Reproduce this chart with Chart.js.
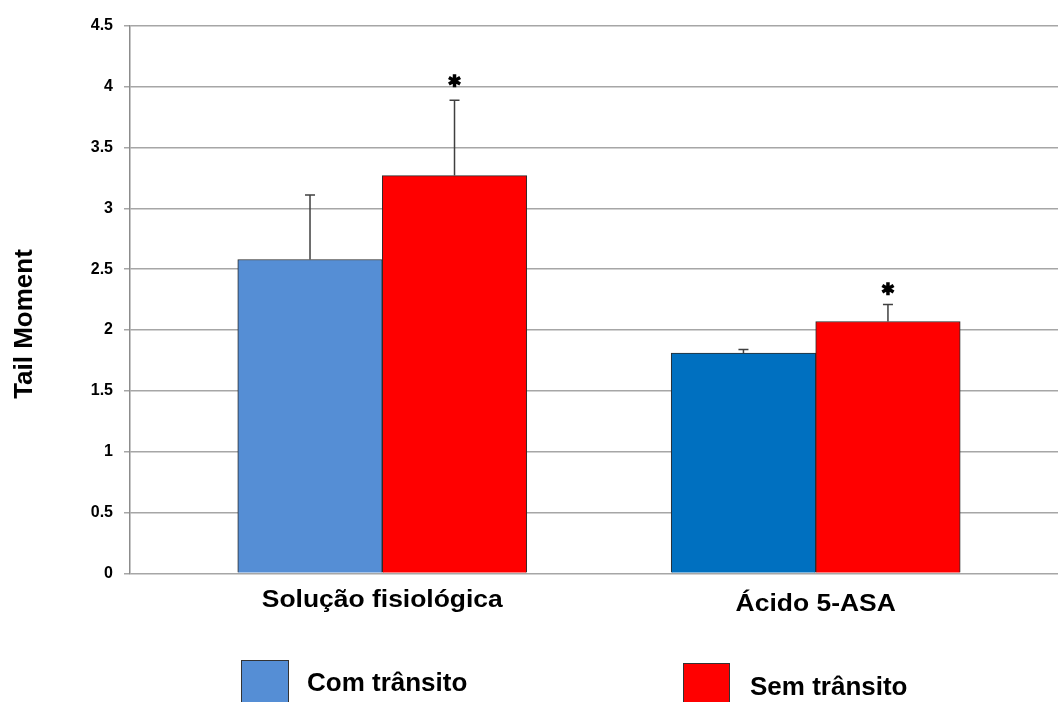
<!DOCTYPE html>
<html>
<head>
<meta charset="utf-8">
<script src="https://cdn.jsdelivr.net/npm/chart.js@4"></script>
<style>
  html, body { margin: 0; padding: 0; background: #fff; }
  #wrap { width: 1058px; height: 702px; position: relative; }
</style>
</head>
<body>
<div id="wrap"><canvas id="c" width="1058" height="702"></canvas></div>
<script>
// Treatment groups along the x axis
const categories = ['Solução fisiológica', 'Ácido 5-ASA'];
const seriesNames = ['Com trânsito', 'Sem trânsito'];

// Mean tail moment per group
const comTransito = [2.58, 1.81];
const semTransito = [3.27, 2.07];

// Upper error (SD) per group
const comTransitoErr = [0.53, 0.03];
const semTransitoErr = [0.62, 0.14];

// Height of the significance asterisk (null = none)
const comTransitoSig = [null, null];
const semTransitoSig = [4.05, 2.34];

// Y axis ticks
const yTicks = [0, 0.5, 1, 1.5, 2, 2.5, 3, 3.5, 4, 4.5];

const FONT = "'Liberation Sans', Arial, sans-serif";

function toPoints(vals) { return vals.map((v, i) => ({ x: i, y: v })); }

function drawStar(ctx, x, y) {
  const r = 6.5;
  ctx.save();
  ctx.strokeStyle = '#000';
  ctx.lineWidth = 3.5;
  ctx.lineCap = 'butt';
  ctx.beginPath();
  for (const a of [90, 30, 150]) {
    const rad = a * Math.PI / 180;
    ctx.moveTo(x - r * Math.cos(rad), y - r * Math.sin(rad));
    ctx.lineTo(x + r * Math.cos(rad), y + r * Math.sin(rad));
  }
  ctx.stroke();
  ctx.restore();
}

const decorations = {
  id: 'decorations',
  afterDatasetsDraw(chart) {
    const ctx = chart.ctx;
    const ys = chart.scales.y;
    chart.data.datasets.forEach((ds, di) => {
      const meta = chart.getDatasetMeta(di);
      meta.data.forEach((bar, i) => {
        const topPx = ys.getPixelForValue(ds.data[i].y + ds.errUp[i]);
        ctx.save();
        ctx.strokeStyle = '#404040';
        ctx.lineWidth = 1.5;
        ctx.beginPath();
        ctx.moveTo(bar.x, bar.y);
        ctx.lineTo(bar.x, topPx);
        ctx.moveTo(bar.x - 5, topPx);
        ctx.lineTo(bar.x + 5, topPx);
        ctx.stroke();
        ctx.restore();
        if (ds.sig[i] != null) drawStar(ctx, bar.x, ys.getPixelForValue(ds.sig[i]));
      });
    });
  },
  afterDraw(chart, args, opts) {
    const ctx = chart.ctx;
    const xs = chart.scales.x;
    const area = chart.chartArea;

    // Category labels under each group
    ctx.save();
    ctx.fillStyle = '#000';
    ctx.font = 'bold 23px ' + FONT;
    ctx.textAlign = 'center';
    ctx.textBaseline = 'alphabetic';
    categories.forEach((label, i) => {
      const cx = xs.getPixelForValue(i);
      ctx.save();
      ctx.translate(cx, area.bottom + opts.labelOffsets[i]);
      ctx.scale(1.15, 1);
      ctx.fillText(label, 0, 0);
      ctx.restore();
    });
    ctx.restore();

    // Y axis title
    ctx.save();
    ctx.fillStyle = '#000';
    ctx.font = 'bold 26px ' + FONT;
    ctx.textAlign = 'center';
    ctx.textBaseline = 'middle';
    ctx.translate(opts.titleX, opts.titleY);
    ctx.rotate(-Math.PI / 2);
    ctx.fillText('Tail Moment', 0, 0);
    ctx.restore();

    // Legend
    ctx.save();
    opts.legend.forEach((item, i) => {
      const ds = chart.data.datasets[i];
      const fill = Array.isArray(ds.backgroundColor) ? ds.backgroundColor[0] : ds.backgroundColor;
      ctx.fillStyle = fill;
      ctx.fillRect(item.box[0], item.box[1], item.box[2], item.box[3]);
      ctx.strokeStyle = '#333';
      ctx.lineWidth = 1;
      ctx.strokeRect(item.box[0] + 0.5, item.box[1] + 0.5, item.box[2] - 1, item.box[3] - 1);
      ctx.fillStyle = '#000';
      ctx.font = 'bold 26px ' + FONT;
      ctx.textAlign = 'left';
      ctx.textBaseline = 'alphabetic';
      ctx.fillText(ds.label, item.text[0], item.text[1]);
    });
    ctx.restore();
  }
};

new Chart(document.getElementById('c'), {
  type: 'bar',
  data: {
    datasets: [
      {
        label: seriesNames[0],
        data: toPoints(comTransito),
        errUp: comTransitoErr,
        sig: comTransitoSig,
        backgroundColor: ['#558ED5', '#0070C0'],
        borderColor: '#2b2b2b',
        borderWidth: 1
      },
      {
        label: seriesNames[1],
        data: toPoints(semTransito),
        errUp: semTransitoErr,
        sig: semTransitoSig,
        backgroundColor: '#FF0000',
        borderColor: '#2b2b2b',
        borderWidth: 1
      }
    ]
  },
  options: {
    responsive: false,
    animation: false,
    devicePixelRatio: 1,
    barThickness: 144.5,
    layout: { padding: { top: 26, right: 0, bottom: 128.7, left: 0 } },
    plugins: {
      legend: { display: false },
      tooltip: { enabled: false },
      decorations: {
        labelOffsets: [34, 38],
        titleX: 24.5,
        titleY: 324,
        legend: [
          { box: [241, 660, 48, 46], text: [307, 691] },
          { box: [683, 663, 47, 43], text: [750, 695] }
        ]
      }
    },
    scales: {
      x: {
        type: 'linear',
        display: false,
        offset: false,
        grid: { offset: false },
        min: -0.582,
        max: 1.559
      },
      y: {
        min: 0,
        max: 4.5,
        afterFit(scale) { scale.width = 130; },
        afterBuildTicks(scale) { scale.ticks = yTicks.map(v => ({ value: v })); },
        border: { display: true, color: '#8c8c8c', width: 1.5 },
        grid: { color: '#a6a6a6', lineWidth: 1.5, tickLength: 6, drawTicks: true },
        ticks: {
          padding: 11,
          color: '#000',
          font: { family: FONT, size: 16, weight: 'bold' },
          callback: v => String(v)
        }
      }
    }
  },
  plugins: [decorations]
});
</script>
</body>
</html>
